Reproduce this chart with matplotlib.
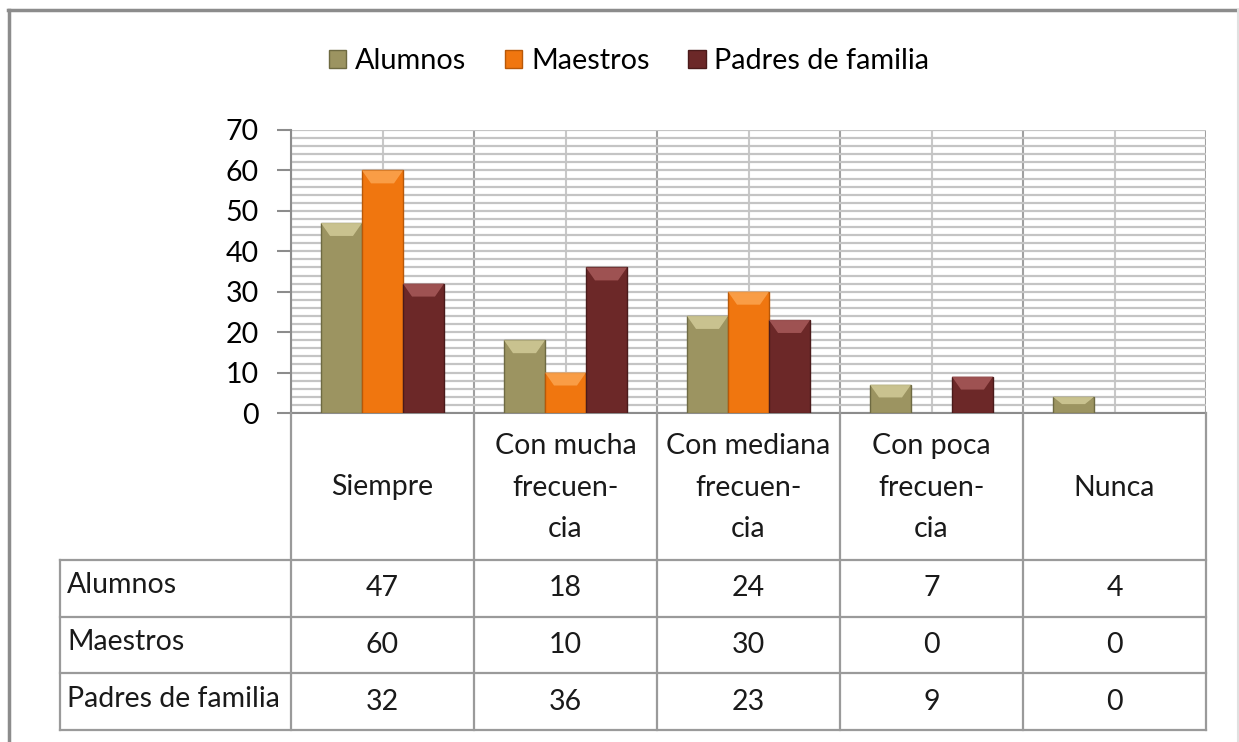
import numpy as np
import matplotlib
matplotlib.use("Agg")
import matplotlib.pyplot as plt
from matplotlib.patches import Polygon, Patch
from matplotlib.lines import Line2D

plt.rcParams['font.family'] = ['Lato', 'DejaVu Sans']

categories = ["Siempre", "Con mucha\nfrecuen-\ncia", "Con mediana\nfrecuen-\ncia",
              "Con poca\nfrecuen-\ncia", "Nunca"]
series_names = ["Alumnos", "Maestros", "Padres de familia"]
alumnos = [47, 18, 24, 7, 4]
maestros = [60, 10, 30, 0, 0]
padres = [32, 36, 23, 9, 0]
yticks = [0, 10, 20, 30, 40, 50, 60, 70]

series = [alumnos, maestros, padres]
colors = ["#9C9461", "#F0760F", "#6C2828"]
edges = ["#6E6A42", "#B85808", "#4A1A1A"]
lights = ["#D2CB98", "#FBA550", "#A85A5A"]

W, H = 1239, 742
FS = 20.5
fig = plt.figure(figsize=(W / 100, H / 100), dpi=100)

# plot area
x0, x1, yb, yt = 291, 1206, 413, 130
ax = fig.add_axes([x0 / W, 1 - yb / H, (x1 - x0) / W, (yb - yt) / H])
n = len(categories)
ax.set_xlim(-0.5, n - 0.5)
ax.set_ylim(0, 70)
ax.set_yticks(yticks)
ax.set_yticks(np.arange(0, 71, 2), minor=True)
ax.set_xticks(np.arange(-0.5, n, 1.0))
ax.set_xticks(np.arange(0, n), minor=True)
ax.tick_params(axis='x', which='both', length=0, labelbottom=False)
ax.tick_params(axis='y', which='major', length=10, width=1.5, color='#8c8c8c',
               labelsize=FS, pad=13)
ax.tick_params(axis='y', which='minor', length=0)
ax.grid(which='both', axis='y', color='#c4c4c4', lw=1.6, zorder=0)
ax.grid(which='major', axis='x', color='#a0a0a0', lw=1.5, zorder=0)
ax.grid(which='minor', axis='x', color='#c8c8c8', lw=1.5, zorder=0)
ax.set_axisbelow(True)
for s in ['top', 'right']:
    ax.spines[s].set_visible(False)
for s in ['left', 'bottom']:
    ax.spines[s].set_color('#8c8c8c')
    ax.spines[s].set_linewidth(1.5)

w = 0.224
xs = np.arange(n)
for i, vals in enumerate(series):
    xpos = xs + (i - 1) * w
    ecs = [edges[i] if v > 0 else 'none' for v in vals]
    bars = ax.bar(xpos, vals, w, color=colors[i], edgecolor=ecs, lw=1.0, zorder=3)
    for b, v in zip(bars, vals):
        if v <= 0:
            continue
        bx = b.get_x()
        bh = min(3.2, v * 0.45)
        inset = w * 0.22
        poly = Polygon([(bx, v), (bx + w, v), (bx + w - inset, v - bh), (bx + inset, v - bh)],
                       closed=True, facecolor=lights[i], edgecolor='none', alpha=0.85, zorder=4)
        ax.add_patch(poly)

# legend
handles = [Patch(facecolor=colors[i], edgecolor=edges[i], label=series_names[i]) for i in range(3)]
fig.legend(handles=handles, loc='center', bbox_to_anchor=(629 / W, 1 - 61 / H), ncol=3,
           frameon=False, fontsize=FS + 0.3, handlelength=0.6, handleheight=0.6,
           handletextpad=0.3, columnspacing=1.35)

# table
tx0, ty_top, ty_bot = 60, 413, 730
row_top = 560
tax = fig.add_axes([tx0 / W, 1 - ty_bot / H, (x1 - tx0) / W, (ty_bot - ty_top) / H])
cat_px = (x1 - x0) / n
tax.set_xlim(-0.5 - (x0 - tx0) / cat_px, n - 0.5)
tax.set_ylim(ty_bot, ty_top)
tax.axis('off')
lc = '#9a9a9a'
lw = 1.6
left = -0.5 - (x0 - tx0) / cat_px
for k in range(n + 1):
    tax.plot([k - 0.5, k - 0.5], [ty_top, ty_bot], color=lc, lw=lw, clip_on=False)
tax.plot([left, left], [row_top, ty_bot], color=lc, lw=lw, clip_on=False)
row_h = (ty_bot - row_top) / 3
for r in range(4):
    yy = row_top + r * row_h
    tax.plot([left, n - 0.5], [yy, yy], color=lc, lw=lw, clip_on=False)

for k, c in enumerate(categories):
    tax.text(k, (ty_top + row_top) / 2 + 1, c, ha='center', va='center', fontsize=FS,
             linespacing=1.72, color='#1a1a1a')
for r, (name, vals) in enumerate(zip(series_names, series)):
    yc = row_top + (r + 0.5) * row_h
    tax.text(left + 0.04, yc - 3, name, ha='left', va='center', fontsize=FS, color='#1a1a1a')
    for k, v in enumerate(vals):
        tax.text(k, yc, str(v), ha='center', va='center', fontsize=FS, color='#1a1a1a')

# outer frame
fc = '#8c8c8c'
fig.add_artist(Line2D([8.5 / W, 8.5 / W], [0, 1 - 10 / H], color=fc, lw=2.5, transform=fig.transFigure))
fig.add_artist(Line2D([8 / W, 1], [1 - 10 / H, 1 - 10 / H], color=fc, lw=2.5, transform=fig.transFigure))
fig.add_artist(Line2D([1237.5 / W, 1237.5 / W], [0, 1 - 10 / H], color='#e0e0e0', lw=1.5,
                      transform=fig.transFigure))

fig.savefig("out.png", dpi=100)
